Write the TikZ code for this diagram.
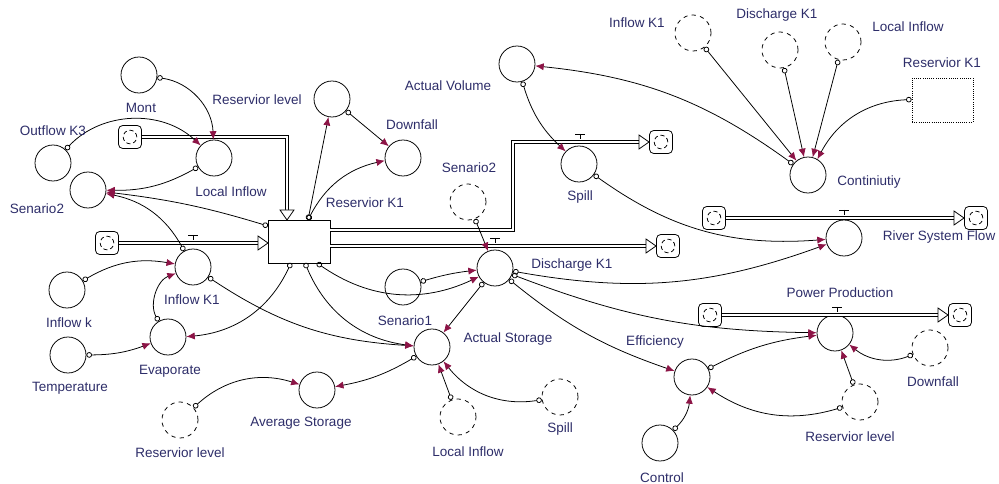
\documentclass[tikz,border=0pt]{standalone}
\usepackage{fontspec}
\setmainfont{Liberation Sans}
\usetikzlibrary{arrows.meta}
\usetikzlibrary{positioning}
\definecolor{linkred}{RGB}{140,20,70}
\definecolor{labelblue}{RGB}{45,45,105}

\begin{document}
\begin{tikzpicture}[x=0.025cm,y=-0.025cm,line width=0.55pt,
aux/.style={circle,draw,minimum size=0.9cm,inner sep=0pt},
shadowvar/.style={aux,dashed},
srcsink/.style={rectangle,rounded corners=3pt,draw,minimum size=0.575cm,inner sep=0pt,path picture={\draw[densely dashed] (path picture bounding box.center) circle[radius=0.17cm];}},
pipe/.style={double,double distance=1.7pt,line width=0.5pt},
pipetip/.style={draw,fill=white},
lbl/.style={font=\fontsize{9.6}{11}\selectfont,text=labelblue},
infolink/.style={{Circle[open,length=1.4mm,width=1.4mm]}-{Latex[length=2.1mm,width=1.8mm,color=linkred]}}]
\useasboundingbox (0,0) rectangle (999,484);

\node[draw,minimum width=1.55cm,minimum height=1.075cm,inner sep=0pt] (stock) at (299,241.5) {};
\coordinate (stTL) at (268,226);
\coordinate (stT) at (308,220);
\coordinate (stB1) at (291,263);
\coordinate (stB2) at (305,263);
\coordinate (stB3) at (317,263);

\node[aux] (mont) at (139,75) {};
\node[aux] (outK3) at (53,163) {};
\node[aux] (locIn) at (214,158) {};
\node[aux] (sen2) at (88,190) {};
\node[aux] (inK1) at (193,267) {};
\node[aux] (inflowk) at (67,290) {};
\node[aux] (temp) at (68,355) {};
\node[aux] (evap) at (168,337) {};
\node[shadowvar] (resLevA) at (180,420) {};
\node[aux] (avgSt) at (317,390) {};
\node[aux] (resLev) at (332,99) {};
\node[aux] (downf) at (403,158) {};
\node[aux] (actVol) at (517,64) {};
\node[aux] (spill) at (579,164) {};
\node[shadowvar] (sen2b) at (468,202) {};
\node[aux] (dischK1) at (495,268) {};
\node[aux] (sen1) at (403,287) {};
\node[aux] (actSt) at (432,347) {};
\node[shadowvar] (locInB) at (458,417) {};
\node[shadowvar] (spillB) at (560,397) {};
\node[shadowvar] (inK1C) at (693,33) {};
\node[shadowvar] (dischC) at (780,50) {};
\node[shadowvar] (locInC) at (843,42) {};
\node[draw,densely dotted,minimum width=1.525cm,minimum height=1.1cm,inner sep=0pt] (resK1C) at (942.5,100) {};
\node[aux] (contin) at (808,175) {};
\node[aux] (river) at (844,238) {};
\node[aux] (power) at (835,333) {};
\node[shadowvar] (downfB) at (930,348) {};
\node[shadowvar] (resLevB) at (860,402) {};
\node[aux] (effic) at (692,377) {};
\node[aux] (control) at (660,443) {};

\node[srcsink] (cLoc) at (130,137) {};
\node[srcsink] (cIn) at (107,243) {};
\node[srcsink] (cSpill) at (661,142) {};
\node[srcsink] (cDis) at (668,246) {};
\node[srcsink] (cRivL) at (714,218) {};
\node[srcsink] (cRivR) at (976,218) {};
\node[srcsink] (cPowL) at (710,315) {};
\node[srcsink] (cPowR) at (960,315) {};

\draw[pipe] (cLoc) -- (287,137) -- (287,210);
\draw[pipetip] (287,220) -- ++(-7,-10) -- ++(14,0) -- cycle;
\draw[pipe] (cIn) -- (258,243);
\draw[pipetip] (268,243) -- ++(-10,-7) -- ++(0,14) -- cycle;
\draw[pipe] (330,230) -- (513,230) -- (513,142) -- (639,142);
\draw[pipetip] (649,142) -- ++(-10,-7) -- ++(0,14) -- cycle;
\draw[pipe] (330,246) -- (646,246);
\draw[pipetip] (656,246) -- ++(-10,-7) -- ++(0,14) -- cycle;
\draw[pipe] (cRivL) -- (954,218);
\draw[pipetip] (964,218) -- ++(-10,-7) -- ++(0,14) -- cycle;
\draw[pipe] (cPowL) -- (938,315);
\draw[pipetip] (948,315) -- ++(-10,-7) -- ++(0,14) -- cycle;

\draw (193,235) -- (193,240) (188,235) -- (198,235);
\draw (495,238) -- (495,243) (490,238) -- (500,238);
\draw (580,134) -- (580,139) (575,134) -- (585,134);
\draw (844,210) -- (844,215) (839,210) -- (849,210);
\draw (837,307) -- (837,312) (832,307) -- (842,307);

\draw[infolink] (mont) to[bend left=40] (locIn);
\draw[infolink] (outK3) to[bend left=45] (locIn);
\draw[infolink] (locIn) to[bend left=15] (sen2);
\draw[infolink] (stTL) to[bend right=5] (sen2);
\draw[infolink] (inK1) to[bend right=25] (sen2);
\draw[infolink] (inflowk) to[bend left=20] (inK1);
\draw[infolink] (evap) to[bend left=50] (inK1);
\draw[infolink] (temp) to[bend right=10] (evap);
\draw[infolink] (stB1) to[bend left=30] (evap);
\draw[infolink] (inK1) to[bend right=15] (actSt);
\draw[infolink] (stB2) to[bend right=30] (actSt);
\draw[infolink] (stB3) to[bend right=30] (dischK1);
\draw[infolink] (sen1) to[bend left=5] (dischK1);
\draw[infolink] (sen2b) to (dischK1);
\draw[infolink] (dischK1) to (actSt);
\draw[infolink] (actSt) to[bend left=10] (avgSt);
\draw[infolink] (resLevA) to[bend left=30] (avgSt);
\draw[infolink] (locInB) to (actSt);
\draw[infolink] (spillB) to[bend left=30] (actSt);
\draw[infolink] (stT) to (resLev);
\draw[infolink] (stT) to[bend left=25] (downf);
\draw[infolink] (resLev) to (downf);
\draw[infolink] (actVol) to[bend right=15] (spill);
\draw[infolink] (spill) to[bend right=20] (river);
\draw[infolink] (dischK1) to[bend right=15] (river);
\draw[infolink] (dischK1) to[bend right=10] (power);
\draw[infolink] (dischK1) to[bend right=10] (effic);
\draw[infolink] (effic) to[bend left=10] (power);
\draw[infolink] (control) to[bend right=20] (effic);
\draw[infolink] (resLevB) to[bend left=25] (effic);
\draw[infolink] (resLevB) to (power);
\draw[infolink] (downfB) to[bend left=30] (power);
\draw[infolink] (contin) to[bend right=15] (actVol);
\draw[infolink] (inK1C) to (contin);
\draw[infolink] (dischC) to (contin);
\draw[infolink] (locInC) to (contin);
\draw[infolink] (resK1C) to[bend right=30] (contin);

\node[lbl] (tMont) at (141,108) {Mont};
\node[lbl] (tResLev) at (257,100) {Reservior level};
\node[lbl] (tOutK3) at (53,131) {Outflow K3};
\node[lbl] (tSen2) at (37,209) {Senario2};
\node[lbl] (tLocIn) at (231,192) {Local Inflow};
\node[lbl] (tResK1) at (365,203) {Reservior K1};
\node[lbl] (tDownf) at (412,125) {Downfall};
\node[lbl] (tActVol) at (448,86) {Actual Volume};
\node[lbl] (tSen2b) at (469,168) {Senario2};
\node[lbl] (tSpill) at (580,197) {Spill};
\node[lbl] (tInK1C) at (637,23) {Inflow K1};
\node[lbl] (tDischC) at (777,15) {Discharge K1};
\node[lbl] (tLocInC) at (908,27) {Local Inflow};
\node[lbl] (tResK1C) at (942,63) {Reservior K1};
\node[lbl] (tContin) at (869,182) {Continiutiy};
\node[lbl] (tRiver) at (939,237) {River System Flow};
\node[lbl] (tDischK1) at (572,265) {Discharge K1};
\node[lbl] (tSen1) at (405,321) {Senario1};
\node[lbl] (tActSt) at (508,339) {Actual Storage};
\node[lbl] (tSpillB) at (560,429) {Spill};
\node[lbl] (tLocInB) at (468,452) {Local Inflow};
\node[lbl] (tAvgSt) at (301,423) {Average Storage};
\node[lbl] (tResLevA) at (180,453) {Reservior level};
\node[lbl] (tInK1) at (192,300) {Inflow K1};
\node[lbl] (tInflowk) at (69,323) {Inflow k};
\node[lbl] (tEvap) at (170,371) {Evaporate};
\node[lbl] (tTemp) at (70,388) {Temperature};
\node[lbl] (tPower) at (840,293) {Power Production};
\node[lbl] (tEffic) at (655,342) {Efficiency};
\node[lbl] (tDownfB) at (933,382) {Downfall};
\node[lbl] (tResLevB) at (850,437) {Reservior level};
\node[lbl] (tControl) at (662,478) {Control};
\end{tikzpicture}
\end{document}
